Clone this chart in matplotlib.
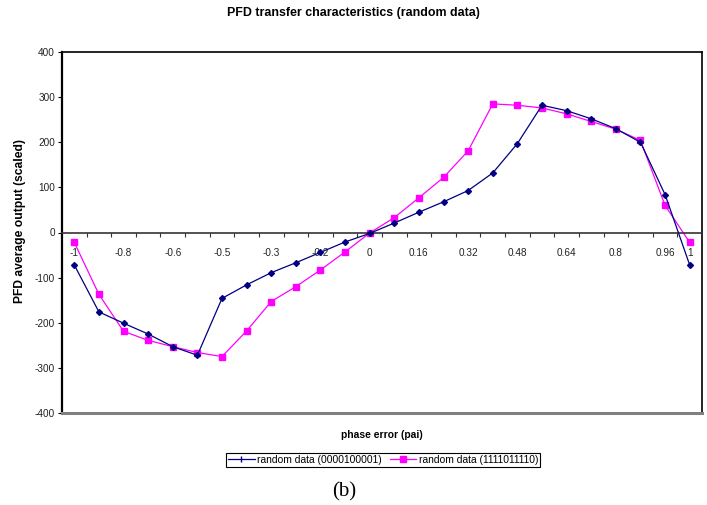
#!/usr/bin/env python
import numpy as np
import matplotlib
matplotlib.use('Agg')
import matplotlib.pyplot as plt
from matplotlib.lines import Line2D

# category labels shown under the zero line (every other category)
tick_labels = ['-1', '-0.8', '-0.6', '-0.5', '-0.3', '-0.2', '0', '0.16', '0.32', '0.48',
               '0.64', '0.8', '0.96', '1']
tick_cats = [0, 2, 4, 6, 8, 10, 12, 14, 16, 18, 20, 22, 24, 25]

series_a = [-72, -176, -201, -225, -253, -272, -146, -116, -89, -67, -44, -21, -2,
            21, 45, 68, 93, 132, 197, 282, 270, 252, 230, 200, 84, -72]
series_b = [-22, -137, -219, -239, -253, -266, -275, -218, -153, -120, -83, -43, -1,
            33, 77, 122, 181, 285, 282, 276, 263, 246, 229, 204, 60, -22]
label_a = 'random data (0000100001)'
label_b = 'random data (1111011110)'

plt.rcParams['font.family'] = ['Liberation Sans', 'DejaVu Sans']
plt.rcParams['axes.unicode_minus'] = False

fig = plt.figure(figsize=(7.07, 5.05), dpi=100)
ax = fig.add_axes([62 / 707, 1 - 413 / 505, 640 / 707, 361 / 505])

n = len(series_a)
x = np.arange(n) + 0.5
ax.plot(x, series_a, color='#000080', lw=0.9, marker='D', ms=3.0, zorder=3)
ax.plot(x, series_b, color='#FF00FF', lw=0.9, marker='s', ms=4.4, zorder=2)

ax.set_xlim(0, n)
ax.set_ylim(-400, 400)
ax.set_yticks(np.arange(-400, 401, 100))

# category axis crosses at y=0
ax.spines['bottom'].set_position(('data', 0))
ax.spines['bottom'].set_color('#333333')
ax.spines['bottom'].set_linewidth(1.2)
for s in ['top', 'right']:
    ax.spines[s].set_color('black')
    ax.spines[s].set_linewidth(1.2)
ax.spines['left'].set_linewidth(1.6)
ax.plot([0, 1], [0, 0], transform=ax.transAxes, color='#808080', lw=2.2,
        clip_on=False, zorder=5)

ax.set_xticks(np.arange(1, n))
ax.set_xticklabels([])
ax.tick_params(axis='x', which='major', direction='out', length=3, width=0.8,
               color='#333333')
ax.set_xticks([c + 0.5 for c in tick_cats], minor=True)
ax.set_xticklabels(tick_labels, minor=True)
ax.tick_params(axis='x', which='minor', length=0, pad=11, labelsize=7.2,
               labelcolor='#222222')
ax.tick_params(axis='y', direction='out', length=3, width=0.8, pad=2,
               labelsize=7.2, labelcolor='#222222')

fig.text(0.5, 1 - 13 / 505, 'PFD transfer characteristics (random data)',
         ha='center', va='center', fontsize=8.9, fontweight='bold')
fig.text(20 / 707, 1 - 221 / 505, 'PFD average output (scaled)', rotation=90,
         ha='center', va='center', fontsize=8.7, fontweight='bold')
fig.text(382 / 707, 1 - 435 / 505, 'phase error (pai)', ha='center', va='center',
         fontsize=7.4, fontweight='bold')

handles = [Line2D([], [], color='#000080', lw=0.9, marker='|', ms=5),
           Line2D([], [], color='#FF00FF', lw=0.9, marker='s', ms=4.4)]
leg = fig.legend(handles, [label_a, label_b], loc='center', ncol=2,
                 bbox_to_anchor=(383 / 707, 1 - 460 / 505), fontsize=7.4,
                 frameon=True, fancybox=False, edgecolor='black', framealpha=1,
                 handlelength=2.6, handletextpad=0.2, columnspacing=0.8,
                 borderpad=0.2, borderaxespad=0)
leg.get_frame().set_linewidth(0.8)

fig.text(344 / 707, 1 - 492 / 505, '(b)', ha='center', va='center',
         fontsize=15, family=['Liberation Serif', 'DejaVu Serif'])

fig.savefig('out.png', dpi=100)
